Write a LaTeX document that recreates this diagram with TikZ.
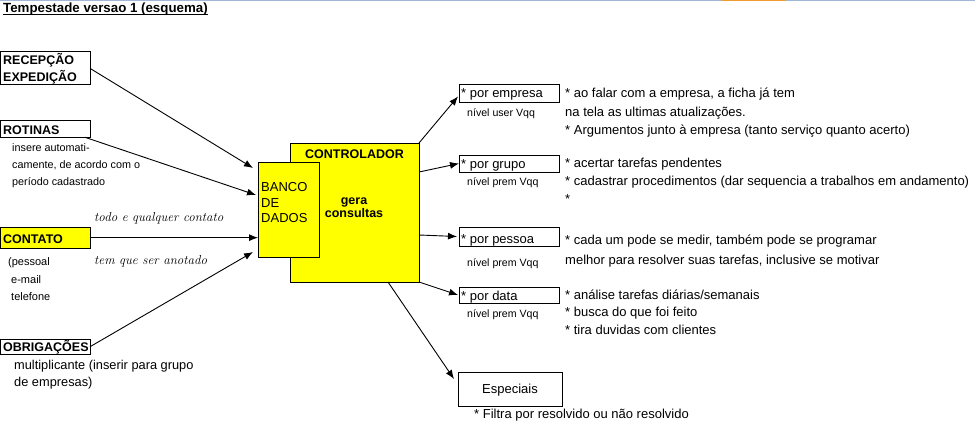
\documentclass[tikz,border=0pt]{standalone}
\usepackage{fontspec}
\setsansfont{Liberation Sans}
\usetikzlibrary{arrows.meta}
\definecolor{boxyellow}{HTML}{FFFF00}
\definecolor{topblue}{HTML}{A0B8D8}
\definecolor{toporange}{HTML}{F39A2E}
\newcommand\fs[1]{\fontsize{#1}{#1}\selectfont}
\newcommand\mkbox[6]{\node[boxst,#6,minimum width={#4-#2},minimum height={#5-#3}] (#1) at (#2,#3) {};}
\begin{document}
\begin{tikzpicture}[x=1pt,y=-1pt,
  boxst/.style={draw=black,line width=1pt,inner sep=0pt,outer sep=0pt,anchor=north west},
  yel/.style={fill=boxyellow},
  txt/.style={font=\sffamily\fs{13},inner sep=0pt,anchor=base west},
  btxt/.style={font=\sffamily\bfseries\fs{12.5},inner sep=0pt,anchor=base west},
  note/.style={font=\sffamily\fs{10.8},inner sep=0pt,anchor=base west},
  tiny/.style={font=\sffamily\fs{10.6},inner sep=0pt,anchor=base west},
  itxt/.style={font=\rmfamily\itshape\fs{13},inner sep=0pt,anchor=base west},
  arr/.style={draw=black,line width=0.9pt,-{Latex[length=9pt,width=7pt]}}]
\useasboundingbox (0,0) rectangle (975,444);
\fill[white] (0,0) rectangle (975,444);
% top strip
\fill[topblue] (0,0) rectangle (975,1.5);
\fill[toporange] (721,0) rectangle (785,1.5);
% title
\node[txt,font=\sffamily\bfseries\fs{13.3}] (title) at (3,13) {Tempestade versao 1 (esquema)};
\draw[line width=1pt] ([yshift=-1.8pt]title.base west) -- ([yshift=-1.8pt]title.base east);
% left boxes
\mkbox{rec}{0.5}{51.7}{90}{85}{}
\mkbox{rot}{0.5}{120}{90}{137.3}{}
\mkbox{cont}{0.5}{227.3}{90}{248}{yel}
\mkbox{obr}{0.5}{339}{90}{354.5}{}
\node[btxt] (recA) at (3,65) {RECEPÇÃO};
\node[btxt] (recB) at (3,81.7) {EXPEDIÇÃO};
\node[btxt] (rotT) at (3,134) {ROTINAS};
\node[btxt] (contT) at (3,243.3) {CONTATO};
\node[btxt] (obrT) at (3,351.5) {OBRIGAÇÕES};
\node[note] (rn1) at (12,151) {insere automati-};
\node[note] (rn2) at (12,168) {camente, de acordo com o};
\node[note] (rn3) at (12,185) {período cadastrado};
\node[note,font=\sffamily\fs{11}] (cn1) at (8,265) {(pessoal};
\node[note,font=\sffamily\fs{11}] (cn2) at (11,283) {e-mail};
\node[note,font=\sffamily\fs{11}] (cn3) at (11,300) {telefone};
\node[txt,font=\sffamily\fs{12.8}] (on1) at (14,369) {multiplicante (inserir para grupo};
\node[txt,font=\sffamily\fs{12.8}] (on2) at (14,386) {de empresas)};
\node[itxt] (it1) at (94,221.5) {todo e qualquer contato};
\node[itxt] (it2) at (94,264) {tem que ser anotado};
% central boxes
\mkbox{ctrl}{290}{143}{419}{282}{yel}
\mkbox{banco}{258}{162}{319}{257}{yel}
\node[btxt,anchor=base] (ctrlT) at (354.5,158) {CONTROLADOR};
\node[btxt,anchor=base] (gera1) at (354,204) {gera};
\node[btxt,anchor=base] (gera2) at (354,217.7) {consultas};
\node[txt,font=\sffamily\fs{13}] (b1) at (261,191.7) {BANCO};
\node[txt,font=\sffamily\fs{13}] (b2) at (261,207) {DE};
\node[txt,font=\sffamily\fs{13}] (b3) at (261,222.5) {DADOS};
% right boxes
\mkbox{emp}{459}{85}{559}{102}{}
\mkbox{grp}{459}{155}{559}{172}{}
\mkbox{pes}{459}{227}{559}{246}{}
\mkbox{dat}{459}{287}{559}{303}{}
\mkbox{esp}{458}{372}{562}{406}{}
\node[txt] (empT) at (461,98) {* por empresa};
\node[txt] (grpT) at (461,168) {* por grupo};
\node[txt] (pesT) at (461,243) {* por pessoa};
\node[txt] (datT) at (461,300) {* por data};
\node[txt,anchor=base] (espT) at (510,393.5) {Especiais};
\node[tiny] (n1) at (467,116) {nível user Vqq};
\node[tiny] (n2) at (467,185) {nível prem Vqq};
\node[tiny] (n3) at (467,266) {nível prem Vqq};
\node[tiny] (n4) at (467,317) {nível prem Vqq};
% right descriptions
\node[txt] (d1) at (565,98) {* ao falar com a empresa, a ficha já tem};
\node[txt] (d2) at (565,116) {na tela as ultimas atualizações.};
\node[txt] (d3) at (565,134) {* Argumentos junto à empresa (tanto serviço quanto acerto)};
\node[txt] (d4) at (565,167) {* acertar tarefas pendentes};
\node[txt] (d5) at (565,185) {* cadastrar procedimentos (dar sequencia a trabalhos em andamento)};
\node[txt] (d6) at (565,203) {*};
\node[txt] (d7) at (565,244) {* cada um pode se medir, também pode se programar};
\node[txt] (d8) at (565,264) {melhor para resolver suas tarefas, inclusive se motivar};
\node[txt] (d9) at (565,299) {* análise tarefas diárias/semanais};
\node[txt] (d10) at (565,316) {* busca do que foi feito};
\node[txt] (d11) at (565,334) {* tira duvidas com clientes};
\node[txt] (d12) at (474,418) {* Filtra por resolvido ou não resolvido};
% arrow tips on the data bank
\coordinate (t1) at (253,168);
\coordinate (t2) at (256,195);
\coordinate (t4) at (253,252);
% connectors
\draw[arr] (rec.east) -- (t1);
\draw[arr] ([xshift=-5pt]rot.south east) -- (t2);
\draw[arr] (cont.east) -- (cont.east -| banco.west);
\draw[arr] (obr.east) -- (t4);
\draw[arr] (ctrl.north east) -- ([xshift=-1pt,yshift=-3pt]emp.west);
\draw[arr] ([yshift=-29pt]ctrl.north east) -- (grp.west);
\draw[arr] ([yshift=1.5pt]ctrl.east |- pes.west) -- ([xshift=-2pt]pes.west);
\draw[arr] (ctrl.south east) -- ([xshift=-1pt]dat.west);
\draw[arr] ([xshift=-31pt]ctrl.south east) -- ([xshift=-4pt,yshift=-7pt]esp.north west);
\end{tikzpicture}
\end{document}
